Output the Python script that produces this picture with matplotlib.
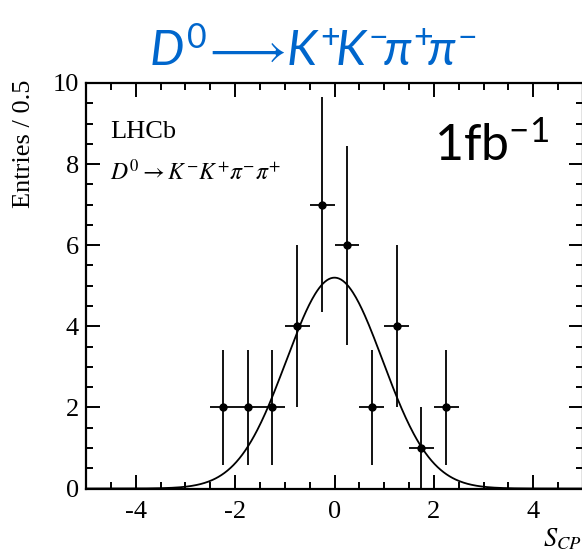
import numpy as np
import matplotlib.pyplot as plt
from matplotlib.ticker import MultipleLocator

plt.rcParams['axes.unicode_minus'] = False
plt.rcParams['mathtext.fontset'] = 'custom'
plt.rcParams['mathtext.rm'] = 'Lato'
plt.rcParams['mathtext.it'] = 'Lato:italic'
plt.rcParams['mathtext.fallback'] = 'stixsans'

# binned data (bin width 0.5)
s_cp = [-2.25, -1.75, -1.25, -0.75, -0.25, 0.25, 0.75, 1.25, 1.75, 2.25]
entries = [2, 2, 2, 4, 7, 6, 2, 4, 1, 2]
entry_err = [1.41, 1.41, 1.41, 2.0, 2.65, 2.45, 1.41, 2.0, 1.0, 1.41]
bin_half = 0.25

# gaussian fit
fit_amp = 5.2
fit_mean = 0.0
fit_sigma = 0.97

x_ticks = [-4, -2, 0, 2, 4]
y_ticks = [0, 2, 4, 6, 8, 10]

serif = 'Liberation Serif'

fig = plt.figure(figsize=(5.82, 5.55), dpi=100)
ax = fig.add_axes([86/582, 1 - 488.5/555, 497/582, 405.5/555])

xs = np.linspace(-5, 5, 500)
ax.plot(xs, fit_amp*np.exp(-0.5*((xs - fit_mean)/fit_sigma)**2), color='black', lw=1.3)
ax.errorbar(s_cp, entries, xerr=bin_half, yerr=entry_err, fmt='o', color='black',
            ms=5, elinewidth=1.3, capsize=0)

ax.set_xlim(-5, 5)
ax.set_ylim(0, 10)
ax.set_xticks(x_ticks)
ax.set_yticks(y_ticks)
ax.xaxis.set_minor_locator(MultipleLocator(0.5))
ax.yaxis.set_minor_locator(MultipleLocator(0.5))
ax.tick_params(which='both', direction='in', top=True, right=True, width=1.4)
ax.tick_params(which='major', length=10)
ax.tick_params(which='minor', length=5)
ax.tick_params(axis='y', pad=5)
ax.tick_params(axis='x', pad=9)
for lab in ax.get_xticklabels() + ax.get_yticklabels():
    lab.set_family(serif)
    lab.set_fontsize(19)
for sp in ax.spines.values():
    sp.set_linewidth(1.6)

ax.text(0.048, 0.864, 'LHCb', transform=ax.transAxes, family=serif, fontsize=19,
        va='baseline', ha='left')
ax.text(0.048, 0.761, r'$D^{0} \rightarrow K^{-}K^{+}\pi^{-}\pi^{+}$', transform=ax.transAxes,
        fontsize=17, va='baseline', ha='left', math_fontfamily='stix')

fig.text(24/582, 1 - 80/555, 'Entries / 0.5', rotation=90, family=serif, fontsize=19,
         ha='center', va='top')
fig.text(543/582, 1 - 546/555, r'$S_{CP}$', fontsize=19, ha='left', va='baseline',
         math_fontfamily='stix')

fig.text(434/582, 1 - 161/555, r'$\mathrm{1fb}^{\mathrm{-1}}$', fontsize=36,
         ha='left', va='baseline')
fig.text(313/582, 1 - 66/555, r'$\mathit{D^{0}\!\longrightarrow\! K^{+}\!K^{-}\!\pi^{+}\!\pi^{-}}$',
         fontsize=35, color='#0066cc', ha='center', va='baseline')

fig.savefig('out.png', dpi=100)
